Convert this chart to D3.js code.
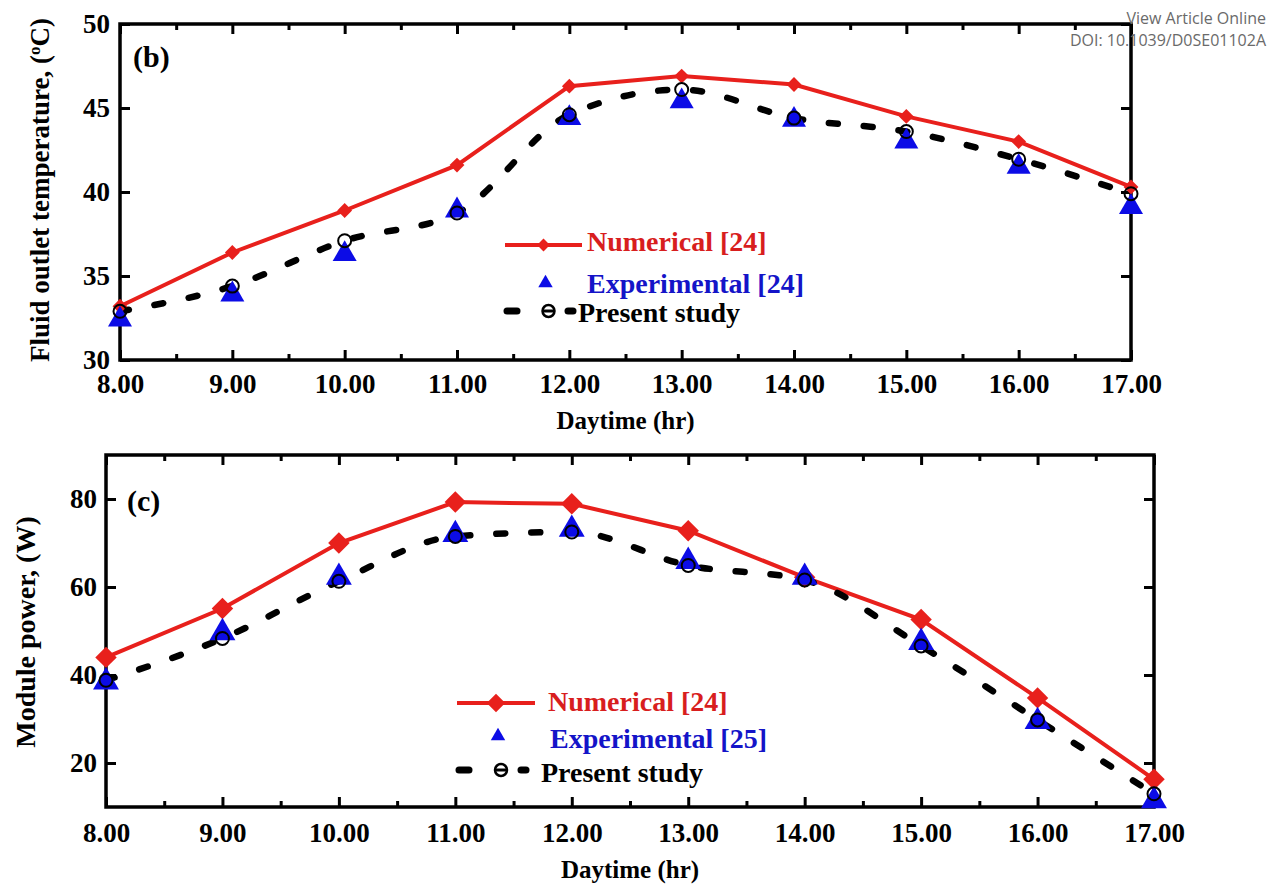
<!DOCTYPE html>
<html>
<head>
    <meta charset="utf-8">
    <title>Fluid outlet temperature and module power</title>
    <script src="https://d3js.org/d3.v7.min.js"></script>
    <style>
        body { margin: 0; background: #fff; }
        svg { display: block; }
        .serif { font-family: "Liberation Serif", "Times New Roman", serif; font-weight: bold; }
    </style>
</head>
<body>
    <svg width="1280" height="888"></svg>

    <script>
    // ---- data ----
    const hours = [8, 9, 10, 11, 12, 13, 14, 15, 16, 17];
    const halfHours = [8.5, 9.5, 10.5, 11.5, 12.5, 13.5, 14.5, 15.5, 16.5];

    // (b) fluid outlet temperature, oC
    const tempNumerical    = [33.2, 36.4, 38.9, 41.6, 46.3, 46.9, 46.4, 44.5, 43.0, 40.3];
    const tempExperimental = [32.4, 33.9, 36.3, 38.9, 44.4, 45.4, 44.3, 43.0, 41.5, 39.1];
    const tempPresent      = [32.9, 34.4, 37.1, 38.75, 44.6, 46.1, 44.4, 43.6, 41.95, 39.9];
    const tempTicks = [30, 35, 40, 45, 50];

    // (c) module power, W
    const powerNumerical    = [44.0, 55.1, 70.0, 79.3, 78.9, 72.8, 62.2, 52.6, 34.8, 16.3];
    const powerExperimental = [38.4, 49.6, 62.2, 71.9, 73.1, 65.8, 62.2, 47.4, 29.4, 11.4];
    const powerPresent      = [38.8, 48.3, 61.3, 71.5, 72.5, 64.9, 61.6, 46.6, 29.8, 13.0];
    const powerTicks = [20, 40, 60, 80];

    const legendNames = {
        b: ["Numerical [24]", "Experimental [24]", "Present study"],
        c: ["Numerical [24]", "Experimental [25]", "Present study"]
    };

    const RED = "#e8201c", RED_TEXT = "#d81e1e", BLUE = "#0c0ce6", BLUE_TEXT = "#1414c8";

    const svg = d3.select("svg");
    const fmt = d3.format(".2f");

    function styleAxis(sel, size) {
        sel.select(".domain").remove();
        sel.selectAll(".tick line").attr("stroke", "#000").attr("stroke-width", 3);
        sel.selectAll(".tick text")
            .attr("class", "serif")
            .attr("fill", "#000")
            .style("font-size", size + "px");
    }

    function drawPanel(p) {
        const g = svg.append("g");
        const x = d3.scaleLinear().domain([8, 17]).range([p.left, p.right]);
        const y = d3.scaleLinear().domain(p.yDomain).range([p.bottom, p.top]);

        // axes, ticks pointing inward
        g.append("g").attr("transform", `translate(0,${p.bottom})`)
            .call(d3.axisBottom(x).tickValues(hours).tickSize(-10).tickPadding(p.xPad).tickFormat(fmt))
            .call(styleAxis, 27);
        g.append("g").attr("transform", `translate(0,${p.bottom})`)
            .call(d3.axisBottom(x).tickValues(halfHours).tickSize(-6).tickFormat(""))
            .call(styleAxis, 27);
        g.append("g").attr("transform", `translate(0,${p.top})`)
            .call(d3.axisTop(x).tickValues(hours).tickSize(-10).tickFormat(""))
            .call(styleAxis, 27);
        g.append("g").attr("transform", `translate(0,${p.top})`)
            .call(d3.axisTop(x).tickValues(halfHours).tickSize(-6).tickFormat(""))
            .call(styleAxis, 27);
        g.append("g").attr("transform", `translate(${p.left},0)`)
            .call(d3.axisLeft(y).tickValues(p.yTicks).tickSize(-10).tickPadding(p.yPad))
            .call(styleAxis, 27);
        g.append("g").attr("transform", `translate(${p.right},0)`)
            .call(d3.axisRight(y).tickValues(p.yTicks).tickSize(-10).tickFormat(""))
            .call(styleAxis, 27);

        // frame
        g.append("rect")
            .attr("x", p.left).attr("y", p.top)
            .attr("width", p.right - p.left).attr("height", p.bottom - p.top)
            .attr("fill", "none").attr("stroke", "#000").attr("stroke-width", 3.5);

        // titles
        g.append("text").attr("class", "serif")
            .attr("x", (p.left + p.right) / 2).attr("y", p.xTitleY)
            .attr("text-anchor", "middle").style("font-size", "25px")
            .text("Daytime (hr)");
        const yt = g.append("text").attr("class", "serif")
            .attr("transform", `translate(${p.yTitleX},${p.yTitleY}) rotate(-90)`)
            .attr("text-anchor", "middle").style("font-size", p.yTitleSize + "px");
        p.yTitle(yt);

        g.append("text").attr("class", "serif")
            .attr("x", p.tagX).attr("y", p.tagY)
            .style("font-size", "30px").text(p.tag);

        // lines
        const line = d3.line().x((d, i) => x(hours[i])).y(d => y(d));
        g.append("path").datum(p.numerical)
            .attr("d", line)
            .attr("fill", "none").attr("stroke", RED).attr("stroke-width", 4);
        g.append("path").datum(p.present)
            .attr("d", line.curve(d3.curveMonotoneX))
            .attr("fill", "none").attr("stroke", "#000").attr("stroke-width", 6.5)
            .attr("stroke-dasharray", "9,26").attr("stroke-linecap", "round");

        // markers
        g.selectAll(".num").data(p.numerical).enter().append("path")
            .attr("class", "num")
            .attr("transform", (d, i) => `translate(${x(hours[i])},${y(d)}) rotate(45)`)
            .attr("d", d3.symbol(d3.symbolSquare, p.diamondSize))
            .attr("fill", RED);
        g.selectAll(".exp").data(p.experimental).enter().append("path")
            .attr("class", "exp")
            .attr("transform", (d, i) => `translate(${x(hours[i])},${y(d)})`)
            .attr("d", d3.symbol(d3.symbolTriangle, p.triangleSize))
            .attr("fill", BLUE);
        g.selectAll(".pre").data(p.present).enter().append("circle")
            .attr("class", "pre")
            .attr("cx", (d, i) => x(hours[i])).attr("cy", d => y(d))
            .attr("r", 6.5)
            .attr("fill", "none").attr("stroke", "#000").attr("stroke-width", 2);

        // legend
        const L = p.legend;
        const mid = (L.x0 + L.x1) / 2;
        const lg = g.append("g");
        lg.append("line")
            .attr("x1", L.x0).attr("x2", L.x1).attr("y1", L.y[0]).attr("y2", L.y[0])
            .attr("stroke", RED).attr("stroke-width", 4);
        lg.append("path")
            .attr("transform", `translate(${mid},${L.y[0]}) rotate(45)`)
            .attr("d", d3.symbol(d3.symbolSquare, p.diamondSize * 0.75))
            .attr("fill", RED);
        lg.append("path")
            .attr("transform", `translate(${mid + 2},${L.y[1]})`)
            .attr("d", d3.symbol(d3.symbolTriangle, 90))
            .attr("fill", BLUE);
        // dash - circle - dash
        [[L.x0 + 2, L.x0 + 12], [L.x1 - 14, L.x1 - 9]].forEach(([a, b]) => {
            lg.append("line")
                .attr("x1", a).attr("x2", b).attr("y1", L.y[2]).attr("y2", L.y[2])
                .attr("stroke", "#000").attr("stroke-width", 7).attr("stroke-linecap", "round");
        });
        lg.append("circle")
            .attr("cx", mid + 5).attr("cy", L.y[2]).attr("r", 6)
            .attr("fill", "#fff").attr("stroke", "#000").attr("stroke-width", 2.5);
        lg.append("line")
            .attr("x1", mid - 1).attr("x2", mid + 11)
            .attr("y1", L.y[2]).attr("y2", L.y[2])
            .attr("stroke", "#000").attr("stroke-width", 3);

        const colors = [RED_TEXT, BLUE_TEXT, "#000"];
        p.names.forEach((name, i) => {
            lg.append("text").attr("class", "serif")
                .attr("x", L.tx[i]).attr("y", L.ty[i])
                .attr("fill", colors[i]).style("font-size", "28px")
                .text(name);
        });
    }

    drawPanel({
        left: 120, right: 1131, top: 24, bottom: 360,
        yDomain: [30, 50], yTicks: tempTicks, xPad: 14, yPad: 10,
        numerical: tempNumerical, experimental: tempExperimental, present: tempPresent,
        diamondSize: 110, triangleSize: 250,
        xTitleY: 429, yTitleX: 49, yTitleY: 190, yTitleSize: 27,
        yTitle: t => {
            t.append("tspan").text("Fluid outlet temperature, (");
            t.append("tspan").attr("baseline-shift", "super").style("font-size", "17px").text("o");
            t.append("tspan").text("C)");
        },
        tag: "(b)", tagX: 133, tagY: 67,
        names: legendNames.b,
        legend: { x0: 505, x1: 582, y: [245, 283, 311], tx: [587, 587, 578], ty: [251, 293, 322] }
    });

    drawPanel({
        left: 106, right: 1154, top: 455, bottom: 807,
        yDomain: [10, 90], yTicks: powerTicks, xPad: 16, yPad: 9,
        numerical: powerNumerical, experimental: powerExperimental, present: powerPresent,
        diamondSize: 230, triangleSize: 290,
        xTitleY: 878, yTitleX: 35, yTitleY: 632, yTitleSize: 28,
        yTitle: t => t.text("Module power, (W)"),
        tag: "(c)", tagX: 127, tagY: 511,
        names: legendNames.c,
        legend: { x0: 457, x1: 535, y: [703, 736, 770], tx: [548, 550, 541], ty: [711, 748, 782] }
    });

    // publisher overlay
    const wm = svg.append("g")
        .style("font-family", "'Open Sans', 'DejaVu Sans', sans-serif")
        .style("font-size", "16px").attr("fill", "#6a6a6a").attr("text-anchor", "end");
    wm.append("text").attr("x", 1266).attr("y", 24).text("View Article Online");
    wm.append("text").attr("x", 1266).attr("y", 46).text("DOI: 10.1039/D0SE01102A");
    </script>
</body>
</html>
